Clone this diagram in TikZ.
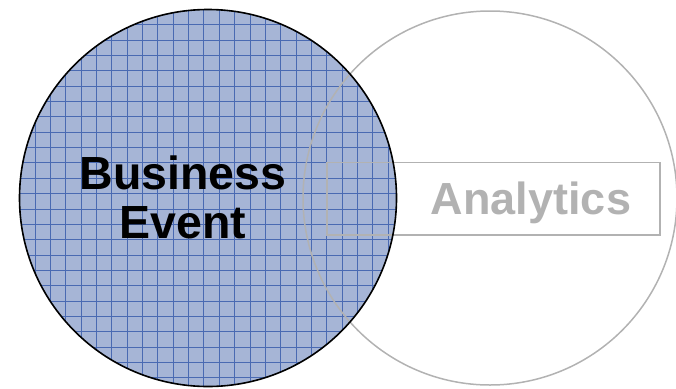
\documentclass[tikz,border=0pt]{standalone}
\usepackage{fontspec}
\setmainfont{Liberation Sans}
\definecolor{bluefill}{RGB}{166,181,214}
\definecolor{gridc}{RGB}{74,106,178}
\definecolor{graylc}{RGB}{178,178,178}
\tikzset{
  bigcircle/.style={circle, inner sep=0pt},
  gridline/.style={draw=gridc, line width=0.7pt},
  grayline/.style={draw=graylc, line width=1.5pt},
  bigtext/.style={font=\fontsize{46.5}{49.3}\selectfont\bfseries, inner sep=0pt, align=center}
}
\begin{document}
\begin{tikzpicture}[x=1pt,y=-1pt]
\useasboundingbox (0,0) rectangle (676,388);
% left circle fill
\node[bigcircle, fill=bluefill, minimum size=377pt] (be) at (208,198) {};
\begin{scope}
  \clip (be.center) circle[radius=188.5pt];
  \foreach \i in {0,...,27} {
    \draw[gridline] (4.25+15.35*\i,0) -- (4.25+15.35*\i,388);
    \draw[gridline] (0,9.3+15.35*\i) -- (676,9.3+15.35*\i);
  }
\end{scope}
% right circle
\node[bigcircle, grayline, minimum size=374pt] (an) at (490,198) {};
% box
\node[grayline, rectangle, inner sep=0pt, minimum width=333pt, minimum height=72.5pt] (box) at (493.5,198.75) {};
% left outline
\draw[black, line width=1.6pt] (be.center) circle[radius=188.5pt];
% texts
\node[bigtext, anchor=center] (bt) at (183,197.5) {Business\\Event};
\node[font=\fontsize{45}{50}\selectfont\bfseries, text=graylc, inner sep=0pt, anchor=base] (at) at (531,214.3) {Analytics};
\end{tikzpicture}
\end{document}
